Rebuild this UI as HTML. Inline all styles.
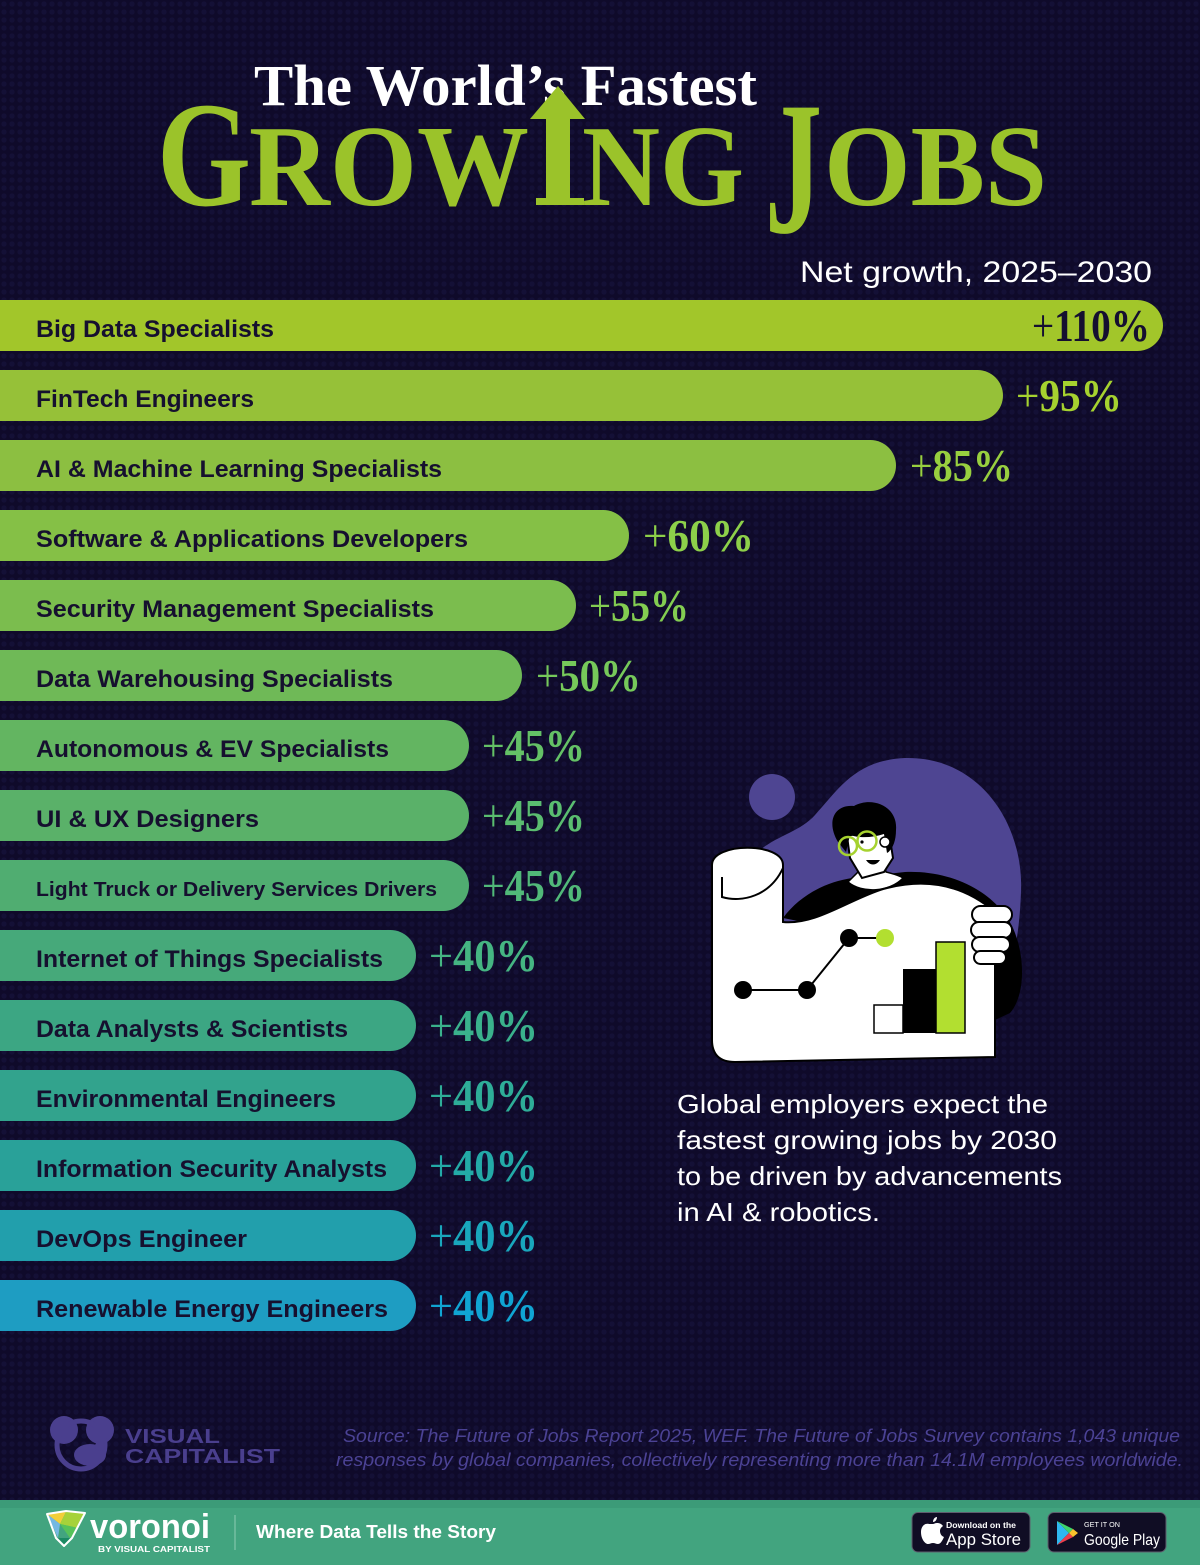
<!DOCTYPE html>
<html>
<head>
<meta charset="utf-8">
<style>
  html,body{margin:0;padding:0;background:#0f0a2a;}
  body{width:1200px;height:1565px;overflow:hidden;}
  svg{display:block;}
  .sans{font-family:"Liberation Sans",sans-serif;}
  .serif{font-family:"Liberation Serif",serif;}
</style>
</head>
<body>
<svg width="1200" height="1565" viewBox="0 0 1200 1565" xmlns="http://www.w3.org/2000/svg">
  <defs>
    <pattern id="dots" width="8" height="8" patternUnits="userSpaceOnUse">
      <circle cx="4" cy="4" r="2.6" fill="#141036"/>
    </pattern>
  </defs>
  <rect x="0" y="0" width="1200" height="1565" fill="#0f0a2a"/>
  <rect x="0" y="0" width="1200" height="1500" fill="url(#dots)"/>

  <!-- Title -->
  <text class="serif" x="254" y="105" font-size="58" font-weight="700" fill="#ffffff" textLength="503" lengthAdjust="spacingAndGlyphs">The World’s Fastest</text>
  <g class="serif" font-weight="700" fill="#9bc32a">
    <text x="157" y="205" font-size="150" textLength="94" lengthAdjust="spacingAndGlyphs">G</text>
    <text x="249" y="205" font-size="116" textLength="280" lengthAdjust="spacingAndGlyphs">ROW</text>
    <text x="582" y="205" font-size="116" textLength="162" lengthAdjust="spacingAndGlyphs">NG</text>
    <text x="765" y="232" font-size="190" textLength="57" lengthAdjust="spacingAndGlyphs">J</text>
    <text x="824" y="205" font-size="116" textLength="223" lengthAdjust="spacingAndGlyphs">OBS</text>
  </g>
  <!-- arrow I -->
  <g fill="#9bc32a">
    <polygon points="530,119 558,86 585,119"/>
    <rect x="546" y="117" width="24" height="86"/>
    <rect x="536" y="198" width="48" height="7"/>
  </g>

  <text class="sans" x="800" y="282" font-size="30" fill="#ffffff" textLength="352" lengthAdjust="spacingAndGlyphs">Net growth, 2025–2030</text>

  <!-- Bars -->
  <g>
    <rect x="-40" y="300" width="1203" height="51" rx="25.5" fill="#a2c62a"/>
    <rect x="-40" y="370" width="1043" height="51" rx="25.5" fill="#96c138"/>
    <rect x="-40" y="440" width="936" height="51" rx="25.5" fill="#8cbf41"/>
    <rect x="-40" y="510" width="669" height="51" rx="25.5" fill="#85c046"/>
    <rect x="-40" y="580" width="616" height="51" rx="25.5" fill="#7bbd4e"/>
    <rect x="-40" y="650" width="562" height="51" rx="25.5" fill="#6fb957"/>
    <rect x="-40" y="720" width="509" height="51" rx="25.5" fill="#63b561"/>
    <rect x="-40" y="790" width="509" height="51" rx="25.5" fill="#5ab169"/>
    <rect x="-40" y="860" width="509" height="51" rx="25.5" fill="#50ad71"/>
    <rect x="-40" y="930" width="456" height="51" rx="25.5" fill="#46a97a"/>
    <rect x="-40" y="1000" width="456" height="51" rx="25.5" fill="#3ca683"/>
    <rect x="-40" y="1070" width="456" height="51" rx="25.5" fill="#32a38d"/>
    <rect x="-40" y="1140" width="456" height="51" rx="25.5" fill="#29a199"/>
    <rect x="-40" y="1210" width="456" height="51" rx="25.5" fill="#229fac"/>
    <rect x="-40" y="1280" width="456" height="51" rx="25.5" fill="#1e9dc2"/>
  </g>

  <!-- Bar labels -->
  <g class="sans" font-weight="700" fill="#16102f" font-size="24">
    <text x="36" y="337" textLength="238" lengthAdjust="spacingAndGlyphs">Big Data Specialists</text>
    <text x="36" y="407" textLength="218" lengthAdjust="spacingAndGlyphs">FinTech Engineers</text>
    <text x="36" y="477" textLength="406" lengthAdjust="spacingAndGlyphs">AI &amp; Machine Learning Specialists</text>
    <text x="36" y="547" textLength="432" lengthAdjust="spacingAndGlyphs">Software &amp; Applications Developers</text>
    <text x="36" y="617" textLength="398" lengthAdjust="spacingAndGlyphs">Security Management Specialists</text>
    <text x="36" y="687" textLength="357" lengthAdjust="spacingAndGlyphs">Data Warehousing Specialists</text>
    <text x="36" y="757" textLength="353" lengthAdjust="spacingAndGlyphs">Autonomous &amp; EV Specialists</text>
    <text x="36" y="827" textLength="223" lengthAdjust="spacingAndGlyphs">UI &amp; UX Designers</text>
    <text x="36" y="896" font-size="20" textLength="401" lengthAdjust="spacingAndGlyphs">Light Truck or Delivery Services Drivers</text>
    <text x="36" y="967" textLength="347" lengthAdjust="spacingAndGlyphs">Internet of Things Specialists</text>
    <text x="36" y="1037" textLength="312" lengthAdjust="spacingAndGlyphs">Data Analysts &amp; Scientists</text>
    <text x="36" y="1107" textLength="300" lengthAdjust="spacingAndGlyphs">Environmental Engineers</text>
    <text x="36" y="1177" textLength="351" lengthAdjust="spacingAndGlyphs">Information Security Analysts</text>
    <text x="36" y="1247" textLength="211" lengthAdjust="spacingAndGlyphs">DevOps Engineer</text>
    <text x="36" y="1317" textLength="352" lengthAdjust="spacingAndGlyphs">Renewable Energy Engineers</text>
  </g>

  <!-- Values -->
  <g class="serif" font-weight="700" font-size="46">
    <text x="1032" y="341" fill="#150f30" textLength="118" lengthAdjust="spacingAndGlyphs"><tspan font-weight="400">+</tspan>110%</text>
    <text x="1016" y="411" fill="#a6d22f" textLength="106" lengthAdjust="spacingAndGlyphs"><tspan font-weight="400">+</tspan>95%</text>
    <text x="910" y="481" fill="#98cf3f" textLength="103" lengthAdjust="spacingAndGlyphs"><tspan font-weight="400">+</tspan>85%</text>
    <text x="643" y="551" fill="#8dd04a" textLength="111" lengthAdjust="spacingAndGlyphs"><tspan font-weight="400">+</tspan>60%</text>
    <text x="589" y="621" fill="#83cd51" textLength="100" lengthAdjust="spacingAndGlyphs"><tspan font-weight="400">+</tspan>55%</text>
    <text x="536" y="691" fill="#76c95a" textLength="105" lengthAdjust="spacingAndGlyphs"><tspan font-weight="400">+</tspan>50%</text>
    <text x="482" y="761" fill="#64c166" textLength="103" lengthAdjust="spacingAndGlyphs"><tspan font-weight="400">+</tspan>45%</text>
    <text x="482" y="831" fill="#5abd70" textLength="103" lengthAdjust="spacingAndGlyphs"><tspan font-weight="400">+</tspan>45%</text>
    <text x="482" y="901" fill="#51b979" textLength="103" lengthAdjust="spacingAndGlyphs"><tspan font-weight="400">+</tspan>45%</text>
    <text x="429" y="971" fill="#45b582" textLength="109" lengthAdjust="spacingAndGlyphs"><tspan font-weight="400">+</tspan>40%</text>
    <text x="429" y="1041" fill="#3ab18c" textLength="109" lengthAdjust="spacingAndGlyphs"><tspan font-weight="400">+</tspan>40%</text>
    <text x="429" y="1111" fill="#2ead98" textLength="109" lengthAdjust="spacingAndGlyphs"><tspan font-weight="400">+</tspan>40%</text>
    <text x="429" y="1181" fill="#23aaa7" textLength="109" lengthAdjust="spacingAndGlyphs"><tspan font-weight="400">+</tspan>40%</text>
    <text x="429" y="1251" fill="#19a7bc" textLength="109" lengthAdjust="spacingAndGlyphs"><tspan font-weight="400">+</tspan>40%</text>
    <text x="429" y="1321" fill="#10a5d3" textLength="109" lengthAdjust="spacingAndGlyphs"><tspan font-weight="400">+</tspan>40%</text>
  </g>

  <!-- Illustration -->
  <g>
    <circle cx="772" cy="797" r="23" fill="#4e4592"/>
    <path d="M 758,852 C 775,836 800,832 815,815 C 838,790 855,760 905,758 C 978,756 1024,822 1021,892 C 1019,945 1010,985 990,1005 L 790,1005 Z" fill="#4e4592"/>
    <!-- body -->
    <path d="M 783,918 C 800,895 826,882 852,878 L 905,872 C 952,870 996,892 1013,928 C 1026,958 1025,996 1010,1013 L 995,1020 L 995,960 Z" fill="#000000"/>
    <!-- neck / collar -->
    <path d="M 856,866 L 884,862 L 886,872 C 894,874 900,876 903,878 C 890,892 862,894 848,882 C 852,878 856,874 858,872 Z" fill="#ffffff" stroke="#000" stroke-width="1.5"/>
    <!-- face -->
    <path d="M 847,836 L 888,826 L 893,858 L 884,872 L 862,878 L 856,868 L 850,858 Z" fill="#ffffff" stroke="#000" stroke-width="2"/>
    <!-- hair -->
    <path d="M 838,842 C 826,822 834,804 854,806 C 872,796 898,806 896,830 C 896,842 892,850 887,853 L 884,834 C 872,838 858,838 850,835 L 846,852 Z" fill="#000000"/>
    <circle cx="885" cy="842" r="5" fill="#ffffff" stroke="#000" stroke-width="1.5"/>
    <circle cx="848" cy="846" r="9" fill="none" stroke="#a6d22f" stroke-width="2.5"/>
    <circle cx="867" cy="841" r="9.5" fill="none" stroke="#a6d22f" stroke-width="2.5"/>
    <circle cx="862" cy="842" r="1.6" fill="#000"/>
    <circle cx="845" cy="845" r="1.6" fill="#000"/>
    <path d="M 866,860 C 870,866 876,866 880,860" fill="#000"/>
    <!-- paper -->
    <path d="M 712,865 C 712,842 783,842 783,865 L 783,922 C 815,925 845,902 880,890 C 920,878 960,882 995,912 L 995,1057 L 735,1062 Q 712,1062 712,1040 Z" fill="#ffffff" stroke="#000" stroke-width="2"/>
    <path d="M 722,877 L 722,897 C 742,903 770,896 783,868" fill="none" stroke="#000" stroke-width="2"/>
    <!-- chart -->
    <polyline points="743,990 807,990 849,938 885,938" fill="none" stroke="#000" stroke-width="2"/>
    <circle cx="743" cy="990" r="9" fill="#000"/>
    <circle cx="807" cy="990" r="9" fill="#000"/>
    <circle cx="849" cy="938" r="9" fill="#000"/>
    <circle cx="885" cy="938" r="9" fill="#b2df30"/>
    <rect x="874" y="1005" width="29" height="28" fill="#ffffff" stroke="#000" stroke-width="1.5"/>
    <rect x="903" y="969" width="33" height="64" fill="#000"/>
    <rect x="936" y="942" width="29" height="91" fill="#b2df30" stroke="#000" stroke-width="1.5"/>
    <!-- hand -->
    <g fill="#ffffff" stroke="#000" stroke-width="2">
      <rect x="972" y="906" width="40" height="17" rx="8.5"/>
      <rect x="971" y="922" width="41" height="16" rx="8"/>
      <rect x="972" y="937" width="38" height="15" rx="7.5"/>
      <rect x="974" y="951" width="32" height="13" rx="6.5"/>
    </g>
  </g>

  <!-- Side text -->
  <g class="sans" font-size="26" fill="#ffffff">
    <text x="677" y="1113" textLength="371" lengthAdjust="spacingAndGlyphs">Global employers expect the</text>
    <text x="677" y="1149" textLength="380" lengthAdjust="spacingAndGlyphs">fastest growing jobs by 2030</text>
    <text x="677" y="1185" textLength="385" lengthAdjust="spacingAndGlyphs">to be driven by advancements</text>
    <text x="677" y="1221" textLength="203" lengthAdjust="spacingAndGlyphs">in AI &amp; robotics.</text>
  </g>

  <!-- Visual Capitalist logo -->
  <g fill="#4a3f8e">
    <circle cx="64" cy="1430" r="14"/>
    <circle cx="100" cy="1430" r="14"/>
    <circle cx="81" cy="1445" r="24" fill="none" stroke="#4a3f8e" stroke-width="5"/>
    <ellipse cx="90" cy="1455" rx="16" ry="11"/>
    <circle cx="100" cy="1446" r="5"/>
  </g>
  <g class="sans" font-weight="700" fill="#4a3f8e">
    <text x="125" y="1443" font-size="20" textLength="95" lengthAdjust="spacingAndGlyphs">VISUAL</text>
    <text x="125" y="1463" font-size="20" textLength="155" lengthAdjust="spacingAndGlyphs">CAPITALIST</text>
  </g>

  <!-- Source -->
  <g class="sans" font-style="italic" font-size="18.5" fill="#4b4294">
    <text x="343" y="1442" textLength="837" lengthAdjust="spacingAndGlyphs">Source: The Future of Jobs Report 2025, WEF. The Future of Jobs Survey contains 1,043 unique</text>
    <text x="336" y="1466" textLength="847" lengthAdjust="spacingAndGlyphs">responses by global companies, collectively representing more than 14.1M employees worldwide.</text>
  </g>

  <!-- Footer band -->
  <rect x="0" y="1500" width="1200" height="65" fill="#42a47f"/>
  <rect x="0" y="1500" width="1200" height="8" fill="#3c9b78"/>

  <!-- Voronoi logo -->
  <g>
    <polygon points="47,1514 66,1512 60,1524" fill="#f2cf3a"/>
    <polygon points="66,1512 85,1513 78,1528 60,1524" fill="#a6d23a"/>
    <polygon points="47,1514 60,1524 58,1538" fill="#74b8e2"/>
    <polygon points="60,1524 78,1528 70,1538" fill="#56c25a"/>
    <polygon points="58,1538 70,1538 65,1545" fill="#1b8a63"/>
    <polygon points="47,1514 66,1511 85,1513 72,1538 64,1546 56,1538" fill="none" stroke="#ffffff" stroke-width="2" stroke-linejoin="round"/>
  </g>
  <text class="sans" x="90" y="1538" font-size="34" font-weight="700" fill="#ffffff" textLength="120" lengthAdjust="spacingAndGlyphs">voronoi</text>
  <text class="sans" x="98" y="1552" font-size="8" font-weight="700" fill="#ffffff" textLength="112" lengthAdjust="spacingAndGlyphs">BY VISUAL CAPITALIST</text>
  <line x1="235" y1="1515" x2="235" y2="1550" stroke="#8fcbb3" stroke-width="1"/>
  <text class="sans" x="256" y="1538" font-size="18.5" font-weight="700" fill="#ffffff" textLength="240" lengthAdjust="spacingAndGlyphs">Where Data Tells the Story</text>

  <!-- App Store -->
  <rect x="912" y="1512.5" width="118" height="39.5" rx="6" fill="#100d24" stroke="#5e5e6e" stroke-width="1"/>
  <g fill="#ffffff">
    <path d="M 929,1524 C 925,1523 921,1526 921,1532 C 921,1539 925,1544 928,1544 C 930,1544 931,1543 933,1543 C 935,1543 936,1544 938,1544 C 941,1544 943,1539 944,1537 C 941,1536 940,1533 940,1531 C 940,1528 942,1527 943,1526 C 941,1523 938,1523 937,1523 C 935,1523 934,1524 933,1524 C 932,1524 931,1524 929,1524 Z"/>
    <path d="M 933,1522 C 933,1519 935,1517 937,1517 C 937,1520 935,1522 933,1522 Z"/>
  </g>
  <text class="sans" x="946" y="1528" font-size="8.5" font-weight="700" fill="#ffffff" textLength="70" lengthAdjust="spacingAndGlyphs">Download on the</text>
  <text class="sans" x="946" y="1545" font-size="17" fill="#ffffff" textLength="75" lengthAdjust="spacingAndGlyphs">App Store</text>

  <!-- Google Play -->
  <rect x="1048" y="1512.5" width="118" height="39.5" rx="6" fill="#100d24" stroke="#5e5e6e" stroke-width="1"/>
  <g>
    <polygon points="1057,1521 1069,1533 1057,1545" fill="#2fb8f0"/>
    <polygon points="1057,1521 1073,1529 1069,1533" fill="#3ed46a"/>
    <polygon points="1057,1545 1069,1533 1073,1537" fill="#ee3d4a"/>
    <polygon points="1069,1533 1073,1529 1078,1533 1073,1537" fill="#f8c22c"/>
  </g>
  <text class="sans" x="1084" y="1527" font-size="7.5" fill="#ffffff" textLength="36" lengthAdjust="spacingAndGlyphs">GET IT ON</text>
  <text class="sans" x="1084" y="1545" font-size="16" fill="#ffffff" textLength="76" lengthAdjust="spacingAndGlyphs">Google Play</text>
</svg>
</body>
</html>
